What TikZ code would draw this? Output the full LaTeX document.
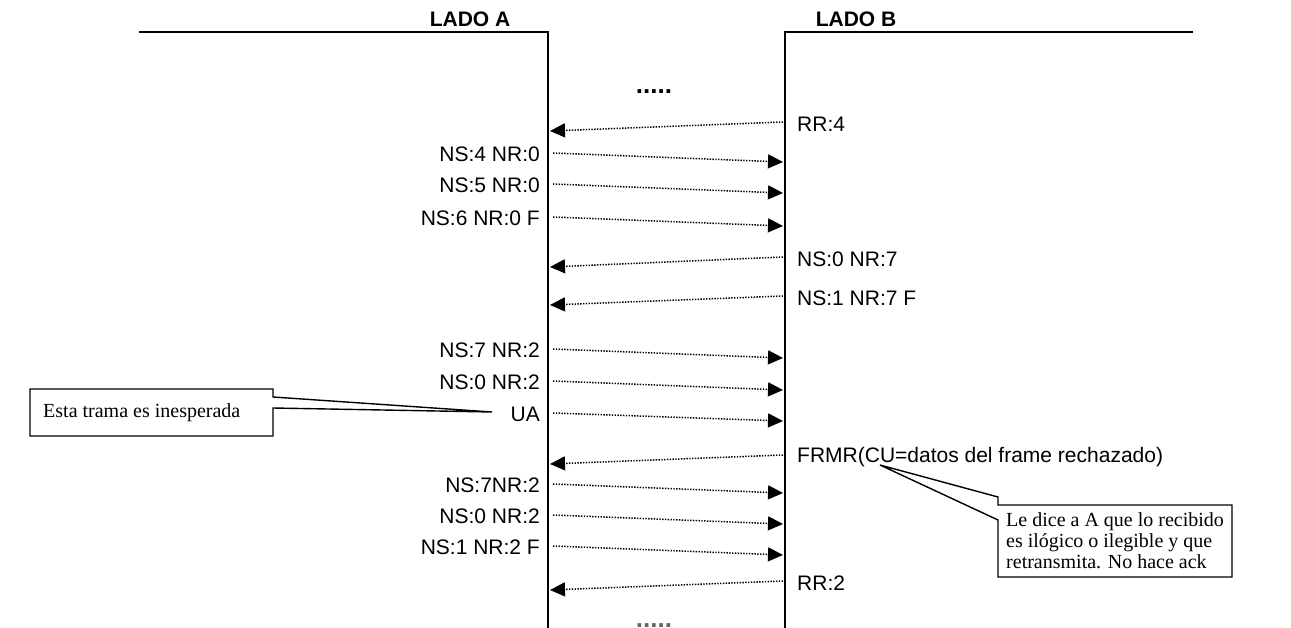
\documentclass[tikz,border=0pt]{standalone}
\usepackage{fontspec}
\setmainfont{Liberation Serif}
\setsansfont{Liberation Sans}
\usetikzlibrary{arrows.meta}
\tikzset{
  lane/.style={line width=1.4pt},
  msg/.style={line width=1.5pt, dash pattern=on 1.4pt off 1.4pt, -{Triangle[length=15pt,width=14pt]}},
  lbl/.style={font=\sffamily\fontsize{21}{25}\selectfont, inner sep=0pt},
  head/.style={font=\sffamily\bfseries\fontsize{21}{25}\selectfont, inner sep=0pt},
  dots/.style={font=\sffamily\bfseries\fontsize{26}{30}\selectfont, inner sep=0pt},
  note/.style={font=\rmfamily\fontsize{20}{21}\selectfont, inner sep=0pt, align=left},
  callout/.style={line width=1.4pt, fill=white, line join=miter}
}
\begin{document}
\begin{tikzpicture}[x=1pt,y=-1pt]
\useasboundingbox (0,0) rectangle (1291,628);
\clip (0,0) rectangle (1291,628);
% lanes
\coordinate (tl) at (139,32);
\coordinate (at) at (548,32);
\coordinate (ab) at (548,630);
\coordinate (bt) at (785,32);
\coordinate (bb) at (785,630);
\coordinate (tr) at (1193,32);
\draw[lane] (tl) -- (at) -- (ab);
\draw[lane] (tr) -- (bt) -- (bb);
\node[head, anchor=base] (ha) at (470,27) {LADO A};
\node[head, anchor=base] (hb) at (856,27) {LADO B};
\node[dots, anchor=base] (d1) at (654,94) {.....};
\node[dots, anchor=base, text=black!60] (d2) at (654,627.5) {.....};
% messages B -> A
\foreach \n/\ya/\yb/\t in {r1/122/131/RR:4, r2/257/267/NS:0 NR:7, r3/296/305/NS:1 NR:7 F, r4/455/464/FRMR(CU=datos del frame rechazado), r5/581/590/RR:2}{
  \coordinate (\n b) at (783,\ya);
  \coordinate (\n a) at (550,\yb);
  \node[lbl, anchor=west] (\n l) at (797,\ya+2) {\t};
  \draw[msg] (\n b) -- (\n a);
}
% messages A -> B
\foreach \n/\ya/\yb/\t in {s1/153/162/NS:4 NR:0, s2/184/193/NS:5 NR:0, s3/217/226/NS:6 NR:0 F, s4/349/358/NS:7 NR:2, s5/381/390/NS:0 NR:2, s6/413/421/UA, s7/484/493/NS:7NR:2, s8/515/524/NS:0 NR:2, s9/546/555/NS:1 NR:2 F}{
  \coordinate (\n a) at (553,\ya);
  \coordinate (\n b) at (783,\yb);
  \node[lbl, anchor=east] (\n l) at (540,\ya+1) {\t};
  \draw[msg] (\n a) -- (\n b);
}
% callout 1
\coordinate (c1tip) at (492,412);
\draw[callout] (30,389) -- (273,389) -- (273,397) -- (c1tip) -- (273,408) -- (273,436) -- (30,436) -- cycle;
\node[note, anchor=west] (n1) at (43,413) {Esta trama es inesperada};
% callout 2
\coordinate (c2tip) at (880,465);
\draw[callout] (998,505) -- (1232,505) -- (1232,577) -- (998,577) -- (998,520) -- (c2tip) -- (998,497) -- cycle;
\node[note, anchor=west] (n2) at (1006,541) {Le dice a A que lo recibido\\es ilógico o ilegible y que\\retransmita. No hace ack};
\end{tikzpicture}
\end{document}
